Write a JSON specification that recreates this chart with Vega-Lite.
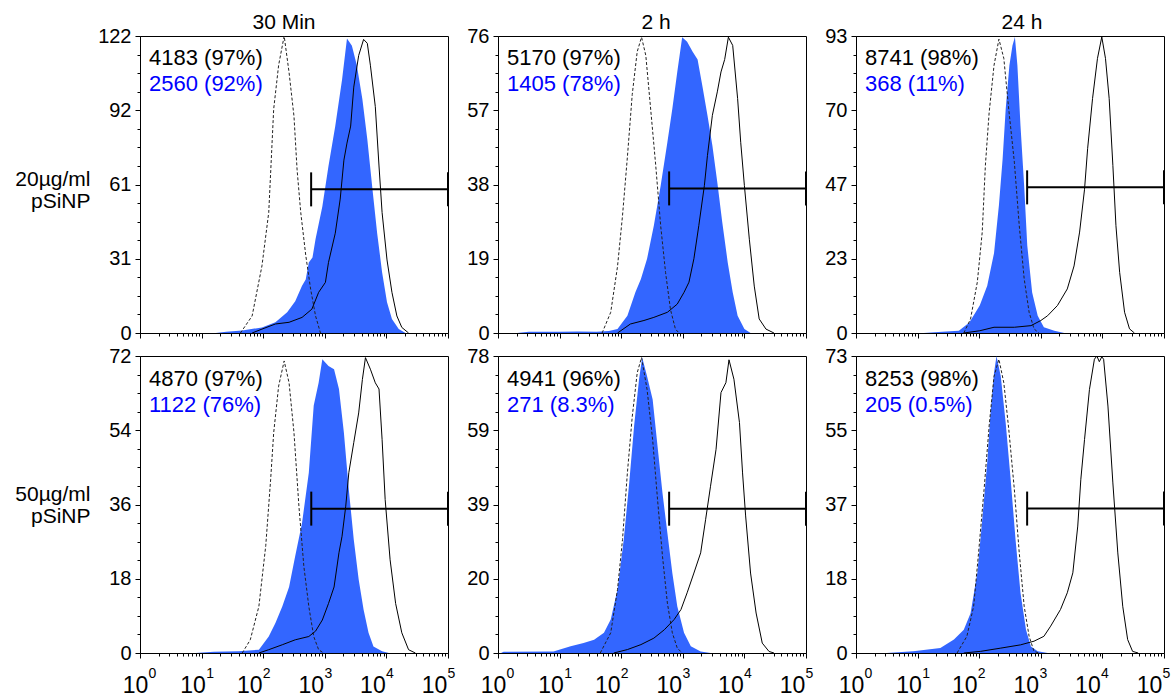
{
  "$schema": "https://vega.github.io/schema/vega-lite/v6.json",
  "padding": {"left": 14, "top": 11, "right": 0, "bottom": 0},
  "background": "white",
  "config": {
    "view": {"stroke": "#000", "strokeWidth": 1},
    "font": "Liberation Sans",
    "axis": {"grid": false, "domainColor": "#000", "tickColor": "#000", "labelColor": "#000", "labelFont": "Liberation Sans", "labelFlush": false, "labelOverlap": false, "domainWidth": 1, "tickWidth": 1},
    "title": {"fontSize": 21, "fontWeight": "normal", "font": "Liberation Sans", "offset": -7, "anchor": "middle", "color": "#000"}
  },
  "datasets": {
    "p1": [
      {"s":"control","x":42.7,"y":0},{"s":"control","x":66.1,"y":7},{"s":"control","x":95.5,"y":27.6},{"s":"control","x":123,"y":49.5},{"s":"control","x":148,"y":92},{"s":"control","x":178,"y":110},{"s":"control","x":219,"y":122},{"s":"control","x":263,"y":107},{"s":"control","x":316,"y":89},{"s":"control","x":355,"y":67},{"s":"control","x":407,"y":49.5},{"s":"control","x":490,"y":32},{"s":"control","x":589,"y":18},{"s":"control","x":708,"y":7},{"s":"control","x":851,"y":0},
      {"s":"sample","x":17,"y":0},{"s":"sample","x":25.1,"y":0.5},{"s":"sample","x":45.7,"y":1},{"s":"sample","x":95.5,"y":2.3},{"s":"sample","x":158,"y":4.4},{"s":"sample","x":245,"y":8.5},{"s":"sample","x":331,"y":13},{"s":"sample","x":427,"y":19.4},{"s":"sample","x":490,"y":22},{"s":"sample","x":550,"y":29},{"s":"sample","x":631,"y":31},{"s":"sample","x":708,"y":38.6},{"s":"sample","x":912,"y":52},{"s":"sample","x":1148,"y":68.6},{"s":"sample","x":1479,"y":85},{"s":"sample","x":1905,"y":104},{"s":"sample","x":2291,"y":121},{"s":"sample","x":2754,"y":118},{"s":"sample","x":3311,"y":110},{"s":"sample","x":4074,"y":96},{"s":"sample","x":4898,"y":79.6},{"s":"sample","x":5888,"y":60},{"s":"sample","x":7079,"y":41},{"s":"sample","x":8511,"y":25},{"s":"sample","x":10233,"y":12.6},{"s":"sample","x":12303,"y":5.7},{"s":"sample","x":15849,"y":1.6},{"s":"sample","x":20417,"y":0},
      {"s":"reference","x":66.1,"y":0},{"s":"reference","x":95.5,"y":1.6},{"s":"reference","x":158,"y":3.7},{"s":"reference","x":263,"y":4.4},{"s":"reference","x":427,"y":6.4},{"s":"reference","x":617,"y":9.8},{"s":"reference","x":794,"y":16.7},{"s":"reference","x":1023,"y":20.8},{"s":"reference","x":1148,"y":29},{"s":"reference","x":1479,"y":41},{"s":"reference","x":1778,"y":55},{"s":"reference","x":2042,"y":71},{"s":"reference","x":2291,"y":78},{"s":"reference","x":2630,"y":85},{"s":"reference","x":2951,"y":101},{"s":"reference","x":3548,"y":114},{"s":"reference","x":4266,"y":120.6},{"s":"reference","x":4898,"y":119},{"s":"reference","x":5495,"y":110},{"s":"reference","x":6607,"y":93},{"s":"reference","x":7586,"y":68.6},{"s":"reference","x":8511,"y":49.5},{"s":"reference","x":10233,"y":30},{"s":"reference","x":12303,"y":16.7},{"s":"reference","x":14791,"y":7},{"s":"reference","x":17783,"y":2.3},{"s":"reference","x":22909,"y":0}
    ],
    "p2": [
      {"s":"control","x":49,"y":0},{"s":"control","x":67.6,"y":5.3},{"s":"control","x":87.1,"y":17},{"s":"control","x":105,"y":30},{"s":"control","x":126,"y":45},{"s":"control","x":151,"y":61},{"s":"control","x":182,"y":72},{"s":"control","x":214,"y":75.7},{"s":"control","x":251,"y":71},{"s":"control","x":302,"y":57},{"s":"control","x":363,"y":43},{"s":"control","x":437,"y":27.5},{"s":"control","x":525,"y":15.5},{"s":"control","x":631,"y":6},{"s":"control","x":759,"y":1},{"s":"control","x":871,"y":0},
      {"s":"sample","x":2.04,"y":0},{"s":"sample","x":3.16,"y":0.3},{"s":"sample","x":10,"y":0.3},{"s":"sample","x":20,"y":0.4},{"s":"sample","x":39.8,"y":0.3},{"s":"sample","x":63.1,"y":0.5},{"s":"sample","x":87.1,"y":1},{"s":"sample","x":126,"y":4.4},{"s":"sample","x":170,"y":10.4},{"s":"sample","x":209,"y":13.8},{"s":"sample","x":263,"y":19},{"s":"sample","x":339,"y":27.5},{"s":"sample","x":437,"y":37.7},{"s":"sample","x":562,"y":48.8},{"s":"sample","x":676,"y":57.4},{"s":"sample","x":813,"y":66.8},{"s":"sample","x":977,"y":75.7},{"s":"sample","x":1175,"y":74.5},{"s":"sample","x":1445,"y":72},{"s":"sample","x":1738,"y":70},{"s":"sample","x":2089,"y":63},{"s":"sample","x":2512,"y":55.7},{"s":"sample","x":3020,"y":48},{"s":"sample","x":3631,"y":38.6},{"s":"sample","x":4365,"y":28.4},{"s":"sample","x":5370,"y":18},{"s":"sample","x":6457,"y":10.4},{"s":"sample","x":7762,"y":4.4},{"s":"sample","x":10000,"y":1},{"s":"sample","x":12589,"y":0},
      {"s":"reference","x":87.1,"y":0},{"s":"reference","x":141,"y":2.3},{"s":"reference","x":234,"y":3.2},{"s":"reference","x":339,"y":4},{"s":"reference","x":562,"y":5.3},{"s":"reference","x":813,"y":7.4},{"s":"reference","x":1047,"y":10.4},{"s":"reference","x":1259,"y":13},{"s":"reference","x":1514,"y":19},{"s":"reference","x":1820,"y":27.5},{"s":"reference","x":2239,"y":37.7},{"s":"reference","x":2512,"y":45.4},{"s":"reference","x":3020,"y":55.7},{"s":"reference","x":3631,"y":61.7},{"s":"reference","x":4169,"y":66.8},{"s":"reference","x":4786,"y":70},{"s":"reference","x":5495,"y":75.7},{"s":"reference","x":6457,"y":73.6},{"s":"reference","x":7762,"y":60},{"s":"reference","x":8710,"y":48.8},{"s":"reference","x":10000,"y":37.7},{"s":"reference","x":12023,"y":24},{"s":"reference","x":14454,"y":12},{"s":"reference","x":17378,"y":3.6},{"s":"reference","x":22387,"y":1},{"s":"reference","x":30200,"y":0}
    ],
    "p3": [
      {"s":"control","x":56.2,"y":0},{"s":"control","x":72.4,"y":4.4},{"s":"control","x":93.3,"y":16},{"s":"control","x":112,"y":31.6},{"s":"control","x":126,"y":52.5},{"s":"control","x":145,"y":69},{"s":"control","x":174,"y":83.8},{"s":"control","x":209,"y":92},{"s":"control","x":251,"y":86},{"s":"control","x":302,"y":70},{"s":"control","x":372,"y":53.5},{"s":"control","x":447,"y":33.6},{"s":"control","x":537,"y":17},{"s":"control","x":646,"y":6.5},{"s":"control","x":776,"y":1.3},{"s":"control","x":933,"y":0},
      {"s":"sample","x":12.6,"y":0},{"s":"sample","x":25.1,"y":0.4},{"s":"sample","x":46.8,"y":0.7},{"s":"sample","x":69.2,"y":3.3},{"s":"sample","x":102,"y":8.6},{"s":"sample","x":135,"y":14.8},{"s":"sample","x":174,"y":25},{"s":"sample","x":209,"y":40},{"s":"sample","x":240,"y":54.5},{"s":"sample","x":269,"y":70},{"s":"sample","x":309,"y":83.8},{"s":"sample","x":347,"y":90},{"s":"sample","x":380,"y":92.7},{"s":"sample","x":417,"y":83.8},{"s":"sample","x":468,"y":65},{"s":"sample","x":537,"y":46},{"s":"sample","x":603,"y":27.4},{"s":"sample","x":724,"y":12.7},{"s":"sample","x":891,"y":5.4},{"s":"sample","x":1122,"y":1.8},{"s":"sample","x":1660,"y":0.7},{"s":"sample","x":2399,"y":0},
      {"s":"reference","x":56.2,"y":0},{"s":"reference","x":102,"y":0.7},{"s":"reference","x":174,"y":1.8},{"s":"reference","x":372,"y":1.8},{"s":"reference","x":692,"y":2.3},{"s":"reference","x":1000,"y":3.9},{"s":"reference","x":1288,"y":5.4},{"s":"reference","x":1862,"y":8.6},{"s":"reference","x":2692,"y":13.8},{"s":"reference","x":3467,"y":21},{"s":"reference","x":4266,"y":31.6},{"s":"reference","x":5129,"y":45},{"s":"reference","x":5754,"y":57.7},{"s":"reference","x":6918,"y":73.4},{"s":"reference","x":8318,"y":86},{"s":"reference","x":9772,"y":92.7},{"s":"reference","x":11220,"y":86},{"s":"reference","x":12882,"y":73.4},{"s":"reference","x":14791,"y":52.5},{"s":"reference","x":16596,"y":33.6},{"s":"reference","x":19055,"y":19},{"s":"reference","x":22909,"y":6.5},{"s":"reference","x":27542,"y":1.3},{"s":"reference","x":33113,"y":0}
    ],
    "p4": [
      {"s":"control","x":45.7,"y":0},{"s":"control","x":61.7,"y":3.2},{"s":"control","x":85.1,"y":11.3},{"s":"control","x":110,"y":26},{"s":"control","x":132,"y":42},{"s":"control","x":148,"y":53.4},{"s":"control","x":178,"y":64.7},{"s":"control","x":219,"y":70.8},{"s":"control","x":263,"y":65.5},{"s":"control","x":316,"y":53.4},{"s":"control","x":380,"y":35.6},{"s":"control","x":457,"y":21},{"s":"control","x":550,"y":11.3},{"s":"control","x":661,"y":4},{"s":"control","x":794,"y":0.8},{"s":"control","x":955,"y":0},
      {"s":"sample","x":7.94,"y":0},{"s":"sample","x":15.8,"y":0.3},{"s":"sample","x":39.8,"y":0.4},{"s":"sample","x":85.1,"y":0.8},{"s":"sample","x":123,"y":4},{"s":"sample","x":158,"y":7.3},{"s":"sample","x":204,"y":11.3},{"s":"sample","x":263,"y":16},{"s":"sample","x":331,"y":23.5},{"s":"sample","x":427,"y":31.5},{"s":"sample","x":550,"y":43.7},{"s":"sample","x":661,"y":60},{"s":"sample","x":794,"y":65.5},{"s":"sample","x":912,"y":71.2},{"s":"sample","x":1148,"y":69.6},{"s":"sample","x":1413,"y":68.8},{"s":"sample","x":1698,"y":64},{"s":"sample","x":2042,"y":53.4},{"s":"sample","x":2455,"y":39.6},{"s":"sample","x":2951,"y":27.5},{"s":"sample","x":3548,"y":17.8},{"s":"sample","x":4266,"y":10.5},{"s":"sample","x":5129,"y":4.9},{"s":"sample","x":6166,"y":1.6},{"s":"sample","x":8511,"y":0.4},{"s":"sample","x":10965,"y":0},
      {"s":"reference","x":85.1,"y":0},{"s":"reference","x":123,"y":0.8},{"s":"reference","x":204,"y":2},{"s":"reference","x":331,"y":3.2},{"s":"reference","x":550,"y":4},{"s":"reference","x":708,"y":5.3},{"s":"reference","x":912,"y":8},{"s":"reference","x":1148,"y":12},{"s":"reference","x":1413,"y":16},{"s":"reference","x":1698,"y":24.3},{"s":"reference","x":1905,"y":28.3},{"s":"reference","x":2188,"y":35.6},{"s":"reference","x":2455,"y":43.7},{"s":"reference","x":2951,"y":51},{"s":"reference","x":3548,"y":58.2},{"s":"reference","x":4074,"y":66.3},{"s":"reference","x":4571,"y":71.6},{"s":"reference","x":5495,"y":68.8},{"s":"reference","x":6607,"y":65.5},{"s":"reference","x":7586,"y":64},{"s":"reference","x":8511,"y":51.8},{"s":"reference","x":9550,"y":37.2},{"s":"reference","x":11482,"y":22.6},{"s":"reference","x":14125,"y":12},{"s":"reference","x":17783,"y":4.9},{"s":"reference","x":22909,"y":0.8},{"s":"reference","x":29512,"y":0}
    ],
    "p5": [
      {"s":"control","x":45.7,"y":0},{"s":"control","x":67.6,"y":5.3},{"s":"control","x":87.1,"y":16.7},{"s":"control","x":105,"y":29.8},{"s":"control","x":126,"y":47.3},{"s":"control","x":151,"y":62},{"s":"control","x":182,"y":73.6},{"s":"control","x":214,"y":77.6},{"s":"control","x":263,"y":69.2},{"s":"control","x":324,"y":56},{"s":"control","x":389,"y":40.3},{"s":"control","x":468,"y":25.4},{"s":"control","x":562,"y":13.1},{"s":"control","x":676,"y":5.3},{"s":"control","x":813,"y":1.3},{"s":"control","x":977,"y":0},
      {"s":"sample","x":1.12,"y":0},{"s":"sample","x":1.23,"y":0.3},{"s":"sample","x":7.94,"y":0.4},{"s":"sample","x":15.1,"y":1.75},{"s":"sample","x":24.5,"y":2.6},{"s":"sample","x":36.3,"y":3.5},{"s":"sample","x":52.5,"y":5.3},{"s":"sample","x":67.6,"y":8.8},{"s":"sample","x":87.1,"y":16.7},{"s":"sample","x":110,"y":29.8},{"s":"sample","x":135,"y":44.7},{"s":"sample","x":162,"y":59.6},{"s":"sample","x":195,"y":71.9},{"s":"sample","x":219,"y":77.6},{"s":"sample","x":263,"y":72.7},{"s":"sample","x":324,"y":66.6},{"s":"sample","x":389,"y":54.3},{"s":"sample","x":468,"y":42},{"s":"sample","x":562,"y":31.5},{"s":"sample","x":676,"y":21},{"s":"sample","x":813,"y":12.3},{"s":"sample","x":1047,"y":5.3},{"s":"sample","x":1349,"y":1.75},{"s":"sample","x":1950,"y":0.4},{"s":"sample","x":2818,"y":0},
      {"s":"reference","x":75.9,"y":0},{"s":"reference","x":126,"y":0.9},{"s":"reference","x":209,"y":2.2},{"s":"reference","x":339,"y":3.9},{"s":"reference","x":501,"y":6.1},{"s":"reference","x":724,"y":8.8},{"s":"reference","x":933,"y":11.4},{"s":"reference","x":1175,"y":15.8},{"s":"reference","x":1514,"y":21},{"s":"reference","x":1950,"y":26.3},{"s":"reference","x":2344,"y":35},{"s":"reference","x":2818,"y":43.8},{"s":"reference","x":3467,"y":53.5},{"s":"reference","x":4169,"y":68.4},{"s":"reference","x":5012,"y":71},{"s":"reference","x":5623,"y":77},{"s":"reference","x":6761,"y":71.9},{"s":"reference","x":8318,"y":60.5},{"s":"reference","x":9333,"y":47.3},{"s":"reference","x":10471,"y":36},{"s":"reference","x":12589,"y":21},{"s":"reference","x":15488,"y":10.5},{"s":"reference","x":19498,"y":2.6},{"s":"reference","x":25119,"y":0.4},{"s":"reference","x":30200,"y":0}
    ],
    "p6": [
      {"s":"control","x":43.7,"y":0},{"s":"control","x":63.1,"y":4.1},{"s":"control","x":81.3,"y":11.5},{"s":"control","x":97.7,"y":24.6},{"s":"control","x":120,"y":40.2},{"s":"control","x":145,"y":55.8},{"s":"control","x":174,"y":68},{"s":"control","x":209,"y":72.2},{"s":"control","x":251,"y":66.4},{"s":"control","x":302,"y":55},{"s":"control","x":372,"y":40.2},{"s":"control","x":447,"y":24.6},{"s":"control","x":537,"y":11.5},{"s":"control","x":646,"y":4.1},{"s":"control","x":776,"y":0.4},{"s":"control","x":933,"y":0},
      {"s":"sample","x":3.16,"y":0},{"s":"sample","x":8.51,"y":0.4},{"s":"sample","x":23.4,"y":1.2},{"s":"sample","x":38.9,"y":3.3},{"s":"sample","x":56.2,"y":5.7},{"s":"sample","x":72.4,"y":9.8},{"s":"sample","x":93.3,"y":19.7},{"s":"sample","x":112,"y":32.8},{"s":"sample","x":135,"y":46.8},{"s":"sample","x":151,"y":58.2},{"s":"sample","x":174,"y":68.9},{"s":"sample","x":191,"y":73},{"s":"sample","x":224,"y":68},{"s":"sample","x":269,"y":56.6},{"s":"sample","x":324,"y":42.7},{"s":"sample","x":389,"y":27.9},{"s":"sample","x":468,"y":14.8},{"s":"sample","x":575,"y":5.7},{"s":"sample","x":692,"y":1.6},{"s":"sample","x":891,"y":0.4},{"s":"sample","x":1288,"y":0},
      {"s":"reference","x":56.2,"y":0},{"s":"reference","x":105,"y":0.4},{"s":"reference","x":224,"y":1.2},{"s":"reference","x":468,"y":2},{"s":"reference","x":776,"y":2.9},{"s":"reference","x":1122,"y":4.1},{"s":"reference","x":1445,"y":6.6},{"s":"reference","x":2089,"y":10.7},{"s":"reference","x":2692,"y":14.8},{"s":"reference","x":3311,"y":19.7},{"s":"reference","x":3981,"y":31.2},{"s":"reference","x":4467,"y":42.7},{"s":"reference","x":5129,"y":52.5},{"s":"reference","x":6166,"y":64.8},{"s":"reference","x":7413,"y":72.2},{"s":"reference","x":8128,"y":73},{"s":"reference","x":8913,"y":71.6},{"s":"reference","x":9772,"y":72.8},{"s":"reference","x":10471,"y":72.2},{"s":"reference","x":12303,"y":60.7},{"s":"reference","x":14791,"y":41.8},{"s":"reference","x":17783,"y":24.6},{"s":"reference","x":21380,"y":11.5},{"s":"reference","x":25704,"y":3.3},{"s":"reference","x":30903,"y":0.4},{"s":"reference","x":38019,"y":0}
    ],
    "g1": [{"gateFrom":600,"gateTo":100000,"gateY":59,"total":"4183 (97%)","blueStat":"2560 (92%)"}],
    "g2": [{"gateFrom":600,"gateTo":100000,"gateY":37,"total":"5170 (97%)","blueStat":"1405 (78%)"}],
    "g3": [{"gateFrom":600,"gateTo":100000,"gateY":45.6,"total":"8741 (98%)","blueStat":"368 (11%)"}],
    "g4": [{"gateFrom":603,"gateTo":100000,"gateY":35,"total":"4870 (97%)","blueStat":"1122 (76%)"}],
    "g5": [{"gateFrom":600,"gateTo":100000,"gateY":37.9,"total":"4941 (96%)","blueStat":"271 (8.3%)"}],
    "g6": [{"gateFrom":600,"gateTo":100000,"gateY":35.5,"total":"8253 (98%)","blueStat":"205 (0.5%)"}]
  },
  "columns": 3,
  "spacing": {"row": 23, "column": 50},
  "bounds": "flush",
  "concat": [
    {
      "width": 308, "height": 297, "title": {"text": "30 Min", "dx": -10},
      "resolve": {"axis": {"x": "independent", "y": "independent"}},
      "layer": [
        {"data": {"name": "p1"}, "transform": [{"filter": "datum.s === 'sample'"}],
         "mark": {"type": "area", "color": "#3366ff"},
         "encoding": {
           "x": {"field": "x", "type": "quantitative", "scale": {"type": "log", "domain": [1, 100000], "nice": false},
                 "axis": {"values": [1,10,100,1000,10000,100000], "labels": false, "tickSize": 5, "title": null}},
           "y": {"field": "y", "type": "quantitative", "stack": null, "scale": {"domain": [0, 122], "nice": false},
                 "axis": {"values": [0,30.5,61,91.5,122], "labelExpr": "'' + round(datum.value)", "tickSize": 5, "labelPadding": 4, "labelFontSize": 20,
                          "title": ["20µg/ml", "pSiNP"], "titleAngle": 0, "titleAlign": "right", "titleBaseline": "alphabetic", "titleX": -50, "titleY": 149,
                          "titleFontSize": 21, "titleFontWeight": "normal", "titleFont": "Liberation Sans", "titleLineHeight": 22, "titleColor": "#000"}}
         }},
        {"data": {"name": "p1"}, "transform": [{"filter": "datum.s === 'control'"}],
         "mark": {"type": "line", "color": "#222", "strokeWidth": 1, "strokeDash": [3, 2]},
         "encoding": {
           "x": {"field": "x", "type": "quantitative", "scale": {"type": "log", "domain": [1, 100000], "nice": false},
                 "axis": {"values": [2,3,4,5,6,7,8,9,20,30,40,50,60,70,80,90,200,300,400,500,600,700,800,900,2000,3000,4000,5000,6000,7000,8000,9000,20000,30000,40000,50000,60000,70000,80000,90000], "labels": false, "tickSize": 3, "domain": false, "title": null, "orient": "bottom"}},
           "y": {"field": "y", "type": "quantitative", "scale": {"domain": [0, 122], "nice": false},
                 "axis": {"values": [7.625,15.25,22.875,38.125,45.75,53.375,68.625,76.25,83.875,99.125,106.75,114.375], "labels": false, "tickSize": 3, "domain": false, "title": null, "orient": "left"}}
         }},
        {"data": {"name": "p1"}, "transform": [{"filter": "datum.s === 'reference'"}],
         "mark": {"type": "line", "color": "#000", "strokeWidth": 1},
         "encoding": {
           "x": {"field": "x", "type": "quantitative", "scale": {"type": "log", "domain": [1, 100000], "nice": false}, "axis": null},
           "y": {"field": "y", "type": "quantitative", "scale": {"domain": [0, 122], "nice": false}, "axis": null}
         }},
        {"data": {"name": "g1"}, "mark": {"type": "rule", "color": "#000", "strokeWidth": 2},
         "encoding": {
           "x": {"field": "gateFrom", "type": "quantitative", "scale": {"type": "log", "domain": [1, 100000], "nice": false}, "axis": null},
           "x2": {"field": "gateTo"},
           "y": {"field": "gateY", "type": "quantitative", "scale": {"domain": [0, 122], "nice": false}, "axis": null}
         }},
        {"data": {"name": "g1"}, "mark": {"type": "rule", "color": "#000", "strokeWidth": 2, "yOffset": -17, "y2Offset": 17},
         "encoding": {
           "x": {"field": "gateFrom", "type": "quantitative", "scale": {"type": "log", "domain": [1, 100000], "nice": false}, "axis": null},
           "y": {"field": "gateY", "type": "quantitative", "scale": {"domain": [0, 122], "nice": false}, "axis": null},
           "y2": {"field": "gateY"}
         }},
        {"data": {"name": "g1"}, "mark": {"type": "rule", "color": "#000", "strokeWidth": 2, "yOffset": -17, "y2Offset": 17},
         "encoding": {
           "x": {"field": "gateTo", "type": "quantitative", "scale": {"type": "log", "domain": [1, 100000], "nice": false}, "axis": null},
           "y": {"field": "gateY", "type": "quantitative", "scale": {"domain": [0, 122], "nice": false}, "axis": null},
           "y2": {"field": "gateY"}
         }},
        {"data": {"name": "g1"}, "mark": {"type": "text", "align": "left", "baseline": "alphabetic", "x": 9, "y": 29, "fontSize": 22, "font": "Liberation Sans", "color": "#000"},
         "encoding": {"text": {"field": "total"}}},
        {"data": {"name": "g1"}, "mark": {"type": "text", "align": "left", "baseline": "alphabetic", "x": 9, "y": 55, "fontSize": 22, "font": "Liberation Sans", "color": "#0000ff"},
         "encoding": {"text": {"field": "blueStat"}}}
      ]
    },
    {
      "width": 308, "height": 297, "title": {"text": "2 h", "dx": 4},
      "resolve": {"axis": {"x": "independent", "y": "independent"}},
      "layer": [
        {"data": {"name": "p2"}, "transform": [{"filter": "datum.s === 'sample'"}],
         "mark": {"type": "area", "color": "#3366ff"},
         "encoding": {
           "x": {"field": "x", "type": "quantitative", "scale": {"type": "log", "domain": [1, 100000], "nice": false},
                 "axis": {"values": [1,10,100,1000,10000,100000], "labels": false, "tickSize": 5, "title": null}},
           "y": {"field": "y", "type": "quantitative", "stack": null, "scale": {"domain": [0, 76], "nice": false},
                 "axis": {"values": [0,19,38,57,76], "labelExpr": "'' + round(datum.value)", "tickSize": 5, "labelPadding": 4, "labelFontSize": 20, "title": null}}
         }},
        {"data": {"name": "p2"}, "transform": [{"filter": "datum.s === 'control'"}],
         "mark": {"type": "line", "color": "#222", "strokeWidth": 1, "strokeDash": [3, 2]},
         "encoding": {
           "x": {"field": "x", "type": "quantitative", "scale": {"type": "log", "domain": [1, 100000], "nice": false},
                 "axis": {"values": [2,3,4,5,6,7,8,9,20,30,40,50,60,70,80,90,200,300,400,500,600,700,800,900,2000,3000,4000,5000,6000,7000,8000,9000,20000,30000,40000,50000,60000,70000,80000,90000], "labels": false, "tickSize": 3, "domain": false, "title": null, "orient": "bottom"}},
           "y": {"field": "y", "type": "quantitative", "scale": {"domain": [0, 76], "nice": false},
                 "axis": {"values": [4.75,9.5,14.25,23.75,28.5,33.25,42.75,47.5,52.25,61.75,66.5,71.25], "labels": false, "tickSize": 3, "domain": false, "title": null, "orient": "left"}}
         }},
        {"data": {"name": "p2"}, "transform": [{"filter": "datum.s === 'reference'"}],
         "mark": {"type": "line", "color": "#000", "strokeWidth": 1},
         "encoding": {
           "x": {"field": "x", "type": "quantitative", "scale": {"type": "log", "domain": [1, 100000], "nice": false}, "axis": null},
           "y": {"field": "y", "type": "quantitative", "scale": {"domain": [0, 76], "nice": false}, "axis": null}
         }},
        {"data": {"name": "g2"}, "mark": {"type": "rule", "color": "#000", "strokeWidth": 2},
         "encoding": {
           "x": {"field": "gateFrom", "type": "quantitative", "scale": {"type": "log", "domain": [1, 100000], "nice": false}, "axis": null},
           "x2": {"field": "gateTo"},
           "y": {"field": "gateY", "type": "quantitative", "scale": {"domain": [0, 76], "nice": false}, "axis": null}
         }},
        {"data": {"name": "g2"}, "mark": {"type": "rule", "color": "#000", "strokeWidth": 2, "yOffset": -17, "y2Offset": 17},
         "encoding": {
           "x": {"field": "gateFrom", "type": "quantitative", "scale": {"type": "log", "domain": [1, 100000], "nice": false}, "axis": null},
           "y": {"field": "gateY", "type": "quantitative", "scale": {"domain": [0, 76], "nice": false}, "axis": null},
           "y2": {"field": "gateY"}
         }},
        {"data": {"name": "g2"}, "mark": {"type": "rule", "color": "#000", "strokeWidth": 2, "yOffset": -17, "y2Offset": 17},
         "encoding": {
           "x": {"field": "gateTo", "type": "quantitative", "scale": {"type": "log", "domain": [1, 100000], "nice": false}, "axis": null},
           "y": {"field": "gateY", "type": "quantitative", "scale": {"domain": [0, 76], "nice": false}, "axis": null},
           "y2": {"field": "gateY"}
         }},
        {"data": {"name": "g2"}, "mark": {"type": "text", "align": "left", "baseline": "alphabetic", "x": 9, "y": 29, "fontSize": 22, "font": "Liberation Sans", "color": "#000"},
         "encoding": {"text": {"field": "total"}}},
        {"data": {"name": "g2"}, "mark": {"type": "text", "align": "left", "baseline": "alphabetic", "x": 9, "y": 55, "fontSize": 22, "font": "Liberation Sans", "color": "#0000ff"},
         "encoding": {"text": {"field": "blueStat"}}}
      ]
    },
    {
      "width": 308, "height": 297, "title": {"text": "24 h", "dx": 12},
      "resolve": {"axis": {"x": "independent", "y": "independent"}},
      "layer": [
        {"data": {"name": "p3"}, "transform": [{"filter": "datum.s === 'sample'"}],
         "mark": {"type": "area", "color": "#3366ff"},
         "encoding": {
           "x": {"field": "x", "type": "quantitative", "scale": {"type": "log", "domain": [1, 100000], "nice": false},
                 "axis": {"values": [1,10,100,1000,10000,100000], "labels": false, "tickSize": 5, "title": null}},
           "y": {"field": "y", "type": "quantitative", "stack": null, "scale": {"domain": [0, 93], "nice": false},
                 "axis": {"values": [0,23.25,46.5,69.75,93], "labelExpr": "'' + round(datum.value)", "tickSize": 5, "labelPadding": 4, "labelFontSize": 20, "title": null}}
         }},
        {"data": {"name": "p3"}, "transform": [{"filter": "datum.s === 'control'"}],
         "mark": {"type": "line", "color": "#222", "strokeWidth": 1, "strokeDash": [3, 2]},
         "encoding": {
           "x": {"field": "x", "type": "quantitative", "scale": {"type": "log", "domain": [1, 100000], "nice": false},
                 "axis": {"values": [2,3,4,5,6,7,8,9,20,30,40,50,60,70,80,90,200,300,400,500,600,700,800,900,2000,3000,4000,5000,6000,7000,8000,9000,20000,30000,40000,50000,60000,70000,80000,90000], "labels": false, "tickSize": 3, "domain": false, "title": null, "orient": "bottom"}},
           "y": {"field": "y", "type": "quantitative", "scale": {"domain": [0, 93], "nice": false},
                 "axis": {"values": [5.8125,11.625,17.4375,29.0625,34.875,40.6875,52.3125,58.125,63.9375,75.5625,81.375,87.1875], "labels": false, "tickSize": 3, "domain": false, "title": null, "orient": "left"}}
         }},
        {"data": {"name": "p3"}, "transform": [{"filter": "datum.s === 'reference'"}],
         "mark": {"type": "line", "color": "#000", "strokeWidth": 1},
         "encoding": {
           "x": {"field": "x", "type": "quantitative", "scale": {"type": "log", "domain": [1, 100000], "nice": false}, "axis": null},
           "y": {"field": "y", "type": "quantitative", "scale": {"domain": [0, 93], "nice": false}, "axis": null}
         }},
        {"data": {"name": "g3"}, "mark": {"type": "rule", "color": "#000", "strokeWidth": 2},
         "encoding": {
           "x": {"field": "gateFrom", "type": "quantitative", "scale": {"type": "log", "domain": [1, 100000], "nice": false}, "axis": null},
           "x2": {"field": "gateTo"},
           "y": {"field": "gateY", "type": "quantitative", "scale": {"domain": [0, 93], "nice": false}, "axis": null}
         }},
        {"data": {"name": "g3"}, "mark": {"type": "rule", "color": "#000", "strokeWidth": 2, "yOffset": -17, "y2Offset": 17},
         "encoding": {
           "x": {"field": "gateFrom", "type": "quantitative", "scale": {"type": "log", "domain": [1, 100000], "nice": false}, "axis": null},
           "y": {"field": "gateY", "type": "quantitative", "scale": {"domain": [0, 93], "nice": false}, "axis": null},
           "y2": {"field": "gateY"}
         }},
        {"data": {"name": "g3"}, "mark": {"type": "rule", "color": "#000", "strokeWidth": 2, "yOffset": -17, "y2Offset": 17},
         "encoding": {
           "x": {"field": "gateTo", "type": "quantitative", "scale": {"type": "log", "domain": [1, 100000], "nice": false}, "axis": null},
           "y": {"field": "gateY", "type": "quantitative", "scale": {"domain": [0, 93], "nice": false}, "axis": null},
           "y2": {"field": "gateY"}
         }},
        {"data": {"name": "g3"}, "mark": {"type": "text", "align": "left", "baseline": "alphabetic", "x": 9, "y": 29, "fontSize": 22, "font": "Liberation Sans", "color": "#000"},
         "encoding": {"text": {"field": "total"}}},
        {"data": {"name": "g3"}, "mark": {"type": "text", "align": "left", "baseline": "alphabetic", "x": 9, "y": 55, "fontSize": 22, "font": "Liberation Sans", "color": "#0000ff"},
         "encoding": {"text": {"field": "blueStat"}}}
      ]
    },
    {
      "width": 308, "height": 297,
      "resolve": {"axis": {"x": "independent", "y": "independent"}},
      "layer": [
        {"data": {"name": "p4"}, "transform": [{"filter": "datum.s === 'sample'"}],
         "mark": {"type": "area", "color": "#3366ff"},
         "encoding": {
           "x": {"field": "x", "type": "quantitative", "scale": {"type": "log", "domain": [1, 100000], "nice": false},
                 "axis": {"values": [1,10,100,1000,10000,100000], "labelExpr": "'10'", "tickSize": 5, "labelFontSize": 23, "labelPadding": 16,
                          "labelOffset": {"condition": [{"test": "datum.value < 5", "value": -5}, {"test": "datum.value < 50", "value": -9}], "value": -14},
                          "labelBaseline": "top", "title": null}},
           "y": {"field": "y", "type": "quantitative", "stack": null, "scale": {"domain": [0, 72], "nice": false},
                 "axis": {"values": [0,18,36,54,72], "labelExpr": "'' + round(datum.value)", "tickSize": 5, "labelPadding": 4, "labelFontSize": 20,
                          "title": ["50µg/ml", "pSiNP"], "titleAngle": 0, "titleAlign": "right", "titleBaseline": "alphabetic", "titleX": -50, "titleY": 144,
                          "titleFontSize": 21, "titleFontWeight": "normal", "titleFont": "Liberation Sans", "titleLineHeight": 22, "titleColor": "#000"}}
         }},
        {"data": {"name": "p4"}, "transform": [{"filter": "datum.s === 'control'"}],
         "mark": {"type": "line", "color": "#222", "strokeWidth": 1, "strokeDash": [3, 2]},
         "encoding": {
           "x": {"field": "x", "type": "quantitative", "scale": {"type": "log", "domain": [1, 100000], "nice": false},
                 "axis": {"values": [2,3,4,5,6,7,8,9,20,30,40,50,60,70,80,90,200,300,400,500,600,700,800,900,2000,3000,4000,5000,6000,7000,8000,9000,20000,30000,40000,50000,60000,70000,80000,90000], "labels": false, "tickSize": 3, "domain": false, "title": null, "orient": "bottom"}},
           "y": {"field": "y", "type": "quantitative", "scale": {"domain": [0, 72], "nice": false},
                 "axis": {"values": [4.5,9,13.5,22.5,27,31.5,40.5,45,49.5,58.5,63,67.5], "labels": false, "tickSize": 3, "domain": false, "title": null, "orient": "left"}}
         }},
        {"data": {"name": "p4"}, "transform": [{"filter": "datum.s === 'reference'"}],
         "mark": {"type": "line", "color": "#000", "strokeWidth": 1},
         "encoding": {
           "x": {"field": "x", "type": "quantitative", "scale": {"type": "log", "domain": [1, 100000], "nice": false},
                 "axis": {"values": [1,10,100,1000,10000,100000], "labelExpr": "['0','1','2','3','4','5'][round(log(datum.value)/LN10)]", "ticks": false, "tickSize": 0, "domain": false, "labelFontSize": 14, "labelPadding": 13,
                          "labelOffset": {"condition": [{"test": "datum.value < 5", "value": 12}, {"test": "datum.value < 50", "value": 8}], "value": 3},
                          "labelBaseline": "top", "title": null, "orient": "bottom"}},
           "y": {"field": "y", "type": "quantitative", "scale": {"domain": [0, 72], "nice": false}, "axis": null}
         }},
        {"data": {"name": "g4"}, "mark": {"type": "rule", "color": "#000", "strokeWidth": 2},
         "encoding": {
           "x": {"field": "gateFrom", "type": "quantitative", "scale": {"type": "log", "domain": [1, 100000], "nice": false}, "axis": null},
           "x2": {"field": "gateTo"},
           "y": {"field": "gateY", "type": "quantitative", "scale": {"domain": [0, 72], "nice": false}, "axis": null}
         }},
        {"data": {"name": "g4"}, "mark": {"type": "rule", "color": "#000", "strokeWidth": 2, "yOffset": -17, "y2Offset": 17},
         "encoding": {
           "x": {"field": "gateFrom", "type": "quantitative", "scale": {"type": "log", "domain": [1, 100000], "nice": false}, "axis": null},
           "y": {"field": "gateY", "type": "quantitative", "scale": {"domain": [0, 72], "nice": false}, "axis": null},
           "y2": {"field": "gateY"}
         }},
        {"data": {"name": "g4"}, "mark": {"type": "rule", "color": "#000", "strokeWidth": 2, "yOffset": -17, "y2Offset": 17},
         "encoding": {
           "x": {"field": "gateTo", "type": "quantitative", "scale": {"type": "log", "domain": [1, 100000], "nice": false}, "axis": null},
           "y": {"field": "gateY", "type": "quantitative", "scale": {"domain": [0, 72], "nice": false}, "axis": null},
           "y2": {"field": "gateY"}
         }},
        {"data": {"name": "g4"}, "mark": {"type": "text", "align": "left", "baseline": "alphabetic", "x": 9, "y": 30, "fontSize": 22, "font": "Liberation Sans", "color": "#000"},
         "encoding": {"text": {"field": "total"}}},
        {"data": {"name": "g4"}, "mark": {"type": "text", "align": "left", "baseline": "alphabetic", "x": 9, "y": 56, "fontSize": 22, "font": "Liberation Sans", "color": "#0000ff"},
         "encoding": {"text": {"field": "blueStat"}}}
      ]
    },
    {
      "width": 308, "height": 297,
      "resolve": {"axis": {"x": "independent", "y": "independent"}},
      "layer": [
        {"data": {"name": "p5"}, "transform": [{"filter": "datum.s === 'sample'"}],
         "mark": {"type": "area", "color": "#3366ff"},
         "encoding": {
           "x": {"field": "x", "type": "quantitative", "scale": {"type": "log", "domain": [1, 100000], "nice": false},
                 "axis": {"values": [1,10,100,1000,10000,100000], "labelExpr": "'10'", "tickSize": 5, "labelFontSize": 23, "labelPadding": 16,
                          "labelOffset": {"condition": [{"test": "datum.value < 5", "value": -5}, {"test": "datum.value < 50", "value": -9}], "value": -14},
                          "labelBaseline": "top", "title": null}},
           "y": {"field": "y", "type": "quantitative", "stack": null, "scale": {"domain": [0, 78], "nice": false},
                 "axis": {"values": [0,19.5,39,58.5,78], "labelExpr": "'' + round(datum.value)", "tickSize": 5, "labelPadding": 4, "labelFontSize": 20, "title": null}}
         }},
        {"data": {"name": "p5"}, "transform": [{"filter": "datum.s === 'control'"}],
         "mark": {"type": "line", "color": "#222", "strokeWidth": 1, "strokeDash": [3, 2]},
         "encoding": {
           "x": {"field": "x", "type": "quantitative", "scale": {"type": "log", "domain": [1, 100000], "nice": false},
                 "axis": {"values": [2,3,4,5,6,7,8,9,20,30,40,50,60,70,80,90,200,300,400,500,600,700,800,900,2000,3000,4000,5000,6000,7000,8000,9000,20000,30000,40000,50000,60000,70000,80000,90000], "labels": false, "tickSize": 3, "domain": false, "title": null, "orient": "bottom"}},
           "y": {"field": "y", "type": "quantitative", "scale": {"domain": [0, 78], "nice": false},
                 "axis": {"values": [4.875,9.75,14.625,24.375,29.25,34.125,43.875,48.75,53.625,63.375,68.25,73.125], "labels": false, "tickSize": 3, "domain": false, "title": null, "orient": "left"}}
         }},
        {"data": {"name": "p5"}, "transform": [{"filter": "datum.s === 'reference'"}],
         "mark": {"type": "line", "color": "#000", "strokeWidth": 1},
         "encoding": {
           "x": {"field": "x", "type": "quantitative", "scale": {"type": "log", "domain": [1, 100000], "nice": false},
                 "axis": {"values": [1,10,100,1000,10000,100000], "labelExpr": "['0','1','2','3','4','5'][round(log(datum.value)/LN10)]", "ticks": false, "tickSize": 0, "domain": false, "labelFontSize": 14, "labelPadding": 13,
                          "labelOffset": {"condition": [{"test": "datum.value < 5", "value": 12}, {"test": "datum.value < 50", "value": 8}], "value": 3},
                          "labelBaseline": "top", "title": null, "orient": "bottom"}},
           "y": {"field": "y", "type": "quantitative", "scale": {"domain": [0, 78], "nice": false}, "axis": null}
         }},
        {"data": {"name": "g5"}, "mark": {"type": "rule", "color": "#000", "strokeWidth": 2},
         "encoding": {
           "x": {"field": "gateFrom", "type": "quantitative", "scale": {"type": "log", "domain": [1, 100000], "nice": false}, "axis": null},
           "x2": {"field": "gateTo"},
           "y": {"field": "gateY", "type": "quantitative", "scale": {"domain": [0, 78], "nice": false}, "axis": null}
         }},
        {"data": {"name": "g5"}, "mark": {"type": "rule", "color": "#000", "strokeWidth": 2, "yOffset": -17, "y2Offset": 17},
         "encoding": {
           "x": {"field": "gateFrom", "type": "quantitative", "scale": {"type": "log", "domain": [1, 100000], "nice": false}, "axis": null},
           "y": {"field": "gateY", "type": "quantitative", "scale": {"domain": [0, 78], "nice": false}, "axis": null},
           "y2": {"field": "gateY"}
         }},
        {"data": {"name": "g5"}, "mark": {"type": "rule", "color": "#000", "strokeWidth": 2, "yOffset": -17, "y2Offset": 17},
         "encoding": {
           "x": {"field": "gateTo", "type": "quantitative", "scale": {"type": "log", "domain": [1, 100000], "nice": false}, "axis": null},
           "y": {"field": "gateY", "type": "quantitative", "scale": {"domain": [0, 78], "nice": false}, "axis": null},
           "y2": {"field": "gateY"}
         }},
        {"data": {"name": "g5"}, "mark": {"type": "text", "align": "left", "baseline": "alphabetic", "x": 9, "y": 30, "fontSize": 22, "font": "Liberation Sans", "color": "#000"},
         "encoding": {"text": {"field": "total"}}},
        {"data": {"name": "g5"}, "mark": {"type": "text", "align": "left", "baseline": "alphabetic", "x": 9, "y": 56, "fontSize": 22, "font": "Liberation Sans", "color": "#0000ff"},
         "encoding": {"text": {"field": "blueStat"}}}
      ]
    },
    {
      "width": 308, "height": 297,
      "resolve": {"axis": {"x": "independent", "y": "independent"}},
      "layer": [
        {"data": {"name": "p6"}, "transform": [{"filter": "datum.s === 'sample'"}],
         "mark": {"type": "area", "color": "#3366ff"},
         "encoding": {
           "x": {"field": "x", "type": "quantitative", "scale": {"type": "log", "domain": [1, 100000], "nice": false},
                 "axis": {"values": [1,10,100,1000,10000,100000], "labelExpr": "'10'", "tickSize": 5, "labelFontSize": 23, "labelPadding": 16,
                          "labelOffset": {"condition": [{"test": "datum.value < 5", "value": -5}, {"test": "datum.value < 50", "value": -9}], "value": -15},
                          "labelBaseline": "top", "title": null}},
           "y": {"field": "y", "type": "quantitative", "stack": null, "scale": {"domain": [0, 73], "nice": false},
                 "axis": {"values": [0,18.25,36.5,54.75,73], "labelExpr": "'' + round(datum.value)", "tickSize": 5, "labelPadding": 4, "labelFontSize": 20, "title": null}}
         }},
        {"data": {"name": "p6"}, "transform": [{"filter": "datum.s === 'control'"}],
         "mark": {"type": "line", "color": "#222", "strokeWidth": 1, "strokeDash": [3, 2]},
         "encoding": {
           "x": {"field": "x", "type": "quantitative", "scale": {"type": "log", "domain": [1, 100000], "nice": false},
                 "axis": {"values": [2,3,4,5,6,7,8,9,20,30,40,50,60,70,80,90,200,300,400,500,600,700,800,900,2000,3000,4000,5000,6000,7000,8000,9000,20000,30000,40000,50000,60000,70000,80000,90000], "labels": false, "tickSize": 3, "domain": false, "title": null, "orient": "bottom"}},
           "y": {"field": "y", "type": "quantitative", "scale": {"domain": [0, 73], "nice": false},
                 "axis": {"values": [4.5625,9.125,13.6875,22.8125,27.375,31.9375,41.0625,45.625,50.1875,59.3125,63.875,68.4375], "labels": false, "tickSize": 3, "domain": false, "title": null, "orient": "left"}}
         }},
        {"data": {"name": "p6"}, "transform": [{"filter": "datum.s === 'reference'"}],
         "mark": {"type": "line", "color": "#000", "strokeWidth": 1},
         "encoding": {
           "x": {"field": "x", "type": "quantitative", "scale": {"type": "log", "domain": [1, 100000], "nice": false},
                 "axis": {"values": [1,10,100,1000,10000,100000], "labelExpr": "['0','1','2','3','4','5'][round(log(datum.value)/LN10)]", "ticks": false, "tickSize": 0, "domain": false, "labelFontSize": 14, "labelPadding": 13,
                          "labelOffset": {"condition": [{"test": "datum.value < 5", "value": 12}, {"test": "datum.value < 50", "value": 8}], "value": 2},
                          "labelBaseline": "top", "title": null, "orient": "bottom"}},
           "y": {"field": "y", "type": "quantitative", "scale": {"domain": [0, 73], "nice": false}, "axis": null}
         }},
        {"data": {"name": "g6"}, "mark": {"type": "rule", "color": "#000", "strokeWidth": 2},
         "encoding": {
           "x": {"field": "gateFrom", "type": "quantitative", "scale": {"type": "log", "domain": [1, 100000], "nice": false}, "axis": null},
           "x2": {"field": "gateTo"},
           "y": {"field": "gateY", "type": "quantitative", "scale": {"domain": [0, 73], "nice": false}, "axis": null}
         }},
        {"data": {"name": "g6"}, "mark": {"type": "rule", "color": "#000", "strokeWidth": 2, "yOffset": -17, "y2Offset": 17},
         "encoding": {
           "x": {"field": "gateFrom", "type": "quantitative", "scale": {"type": "log", "domain": [1, 100000], "nice": false}, "axis": null},
           "y": {"field": "gateY", "type": "quantitative", "scale": {"domain": [0, 73], "nice": false}, "axis": null},
           "y2": {"field": "gateY"}
         }},
        {"data": {"name": "g6"}, "mark": {"type": "rule", "color": "#000", "strokeWidth": 2, "yOffset": -17, "y2Offset": 17},
         "encoding": {
           "x": {"field": "gateTo", "type": "quantitative", "scale": {"type": "log", "domain": [1, 100000], "nice": false}, "axis": null},
           "y": {"field": "gateY", "type": "quantitative", "scale": {"domain": [0, 73], "nice": false}, "axis": null},
           "y2": {"field": "gateY"}
         }},
        {"data": {"name": "g6"}, "mark": {"type": "text", "align": "left", "baseline": "alphabetic", "x": 9, "y": 30, "fontSize": 22, "font": "Liberation Sans", "color": "#000"},
         "encoding": {"text": {"field": "total"}}},
        {"data": {"name": "g6"}, "mark": {"type": "text", "align": "left", "baseline": "alphabetic", "x": 9, "y": 56, "fontSize": 22, "font": "Liberation Sans", "color": "#0000ff"},
         "encoding": {"text": {"field": "blueStat"}}}
      ]
    }
  ]
}
